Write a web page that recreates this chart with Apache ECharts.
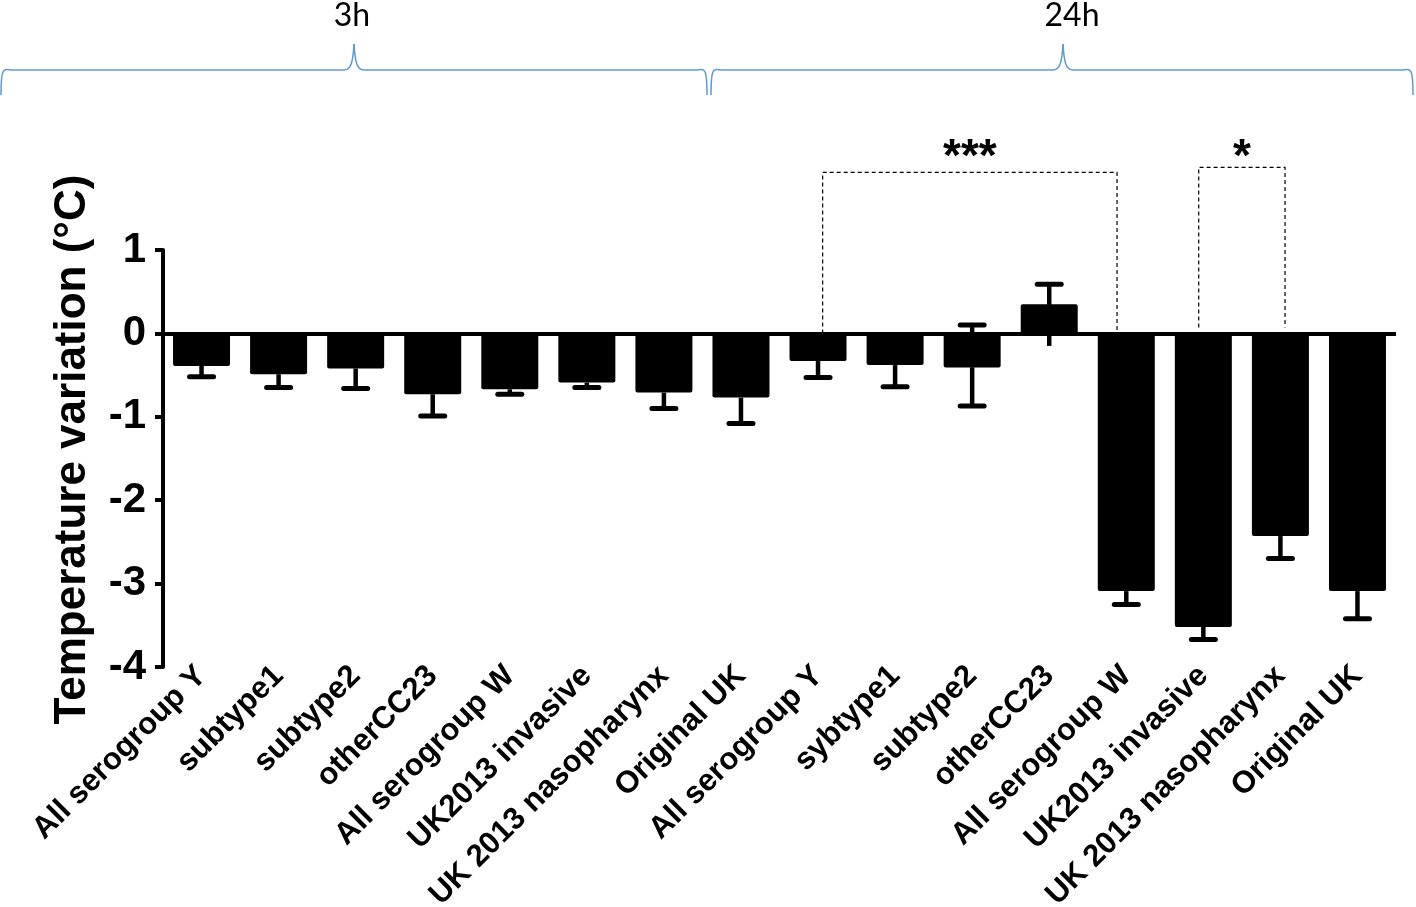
<!DOCTYPE html>
<html><head><meta charset="utf-8">
<script src="https://cdn.jsdelivr.net/npm/echarts@6/dist/echarts.min.js"></script>
<style>html,body{margin:0;padding:0;background:#fff}#chart{width:1416px;height:907px}</style>
</head><body><div id="chart"></div>
<script>
// ---- data ----
const categories = ['All serogroup Y','subtype1','subtype2','otherCC23','All serogroup W','UK2013 invasive','UK 2013 nasopharynx','Original UK',
                    'All serogroup Y','sybtype1','subtype2','otherCC23','All serogroup W','UK2013 invasive','UK 2013 nasopharynx','Original UK'];
const means   = [-0.39,-0.49,-0.42,-0.73,-0.67,-0.59,-0.71,-0.77, -0.33,-0.38,-0.41, 0.35,-3.09,-3.52,-2.43,-3.09];
const errLow  = [-0.52,-0.65,-0.66,-0.99,-0.73,-0.65,-0.90,-1.08, -0.53,-0.64,-0.87,-0.15,-3.25,-3.67,-2.70,-3.42];
const errHigh = [null,null,null,null,null,null,null,null, null,null,0.10,0.59,null,null,null,null];
const lowCap  = [true,true,true,true,true,true,true,true, true,true,true,false,true,true,true,true];
const yMin = -4, yMax = 1, yStep = 1;
const yTitle = 'Temperature variation (°C)';
const groupLabels = ['3h','24h'];
const sigFrom  = [8.06, 12.94];
const sigTo    = [11.88, 14.06];
const sigTop   = [1.93, 1.99];
const sigBase  = [0, 0.07];
const sigText  = ['***','*'];
const sigTextY = [2.1, 2.1];

const chart = echarts.init(document.getElementById('chart'));
const FONT = "'Liberation Sans', Arial, sans-serif";
const BRACE = { stroke: '#5b9bd5', lineWidth: 1.5, fill: null };

function brace(x0, x1, tip) {
  const yl = 70, yb = 95, yt = 44;
  const els = [];
  const bz = (a, b, c1, c2) => els.push({ type: 'bezierCurve', shape: { x1: a[0], y1: a[1], x2: b[0], y2: b[1], cpx1: c1[0], cpy1: c1[1], cpx2: c2[0], cpy2: c2[1] }, style: BRACE });
  const ln = (a, b) => els.push({ type: 'line', shape: { x1: a[0], y1: a[1], x2: b[0], y2: b[1] }, style: BRACE });
  bz([x0, yb], [x0 + 12, yl], [x0, yl - 6], [x0 + 3, yl]);
  ln([x0 + 12, yl], [tip - 10, yl]);
  bz([tip - 10, yl], [tip, yt], [tip - 3, yl], [tip - 1, yl - 8]);
  bz([tip, yt], [tip + 10, yl], [tip + 1, yl - 8], [tip + 3, yl]);
  ln([tip + 10, yl], [x1 - 12, yl]);
  bz([x1 - 12, yl], [x1, yb], [x1 - 3, yl], [x1, yl - 6]);
  return els;
}

const option = {
  animation: false,
  backgroundColor: '#fff',
  grid: { left: 163, right: 20, top: 250, bottom: 240, containLabel: false, outerBoundsMode: 'none' },
  xAxis: [
    { type: 'category', data: categories, position: 'bottom',
      axisLine: { show: false, onZero: false }, axisTick: { show: false },
      axisLabel: { interval: 0, rotate: 45, fontSize: 31, fontWeight: 'bold', color: '#000',
                   fontFamily: FONT, margin: 4, padding: [56, 0, 0, 0] } },
    { type: 'value', min: -0.5, max: 15.5, show: false }
  ],
  yAxis: {
    type: 'value', min: yMin, max: yMax, interval: yStep,
    name: yTitle, nameLocation: 'middle', nameRotate: 90, nameGap: 68,
    nameTextStyle: { fontSize: 44, fontWeight: 'bold', color: '#000', fontFamily: FONT, padding: [0, 0, 0, 18] },
    axisLine: { show: true, onZero: false, lineStyle: { color: '#000', width: 4 } },
    axisTick: { show: true, length: 8, lineStyle: { color: '#000', width: 4 } },
    axisLabel: { fontSize: 42, fontWeight: 'bold', color: '#000', fontFamily: FONT, margin: 17 },
    splitLine: { show: false }
  },
  series: [
    { type: 'custom', xAxisIndex: 1, z: 1, clip: false,
      data: means.map((m, i) => [i, m]),
      renderItem(params, api) {
        const i = params.dataIndex;
        const children = [];
        const c = api.coord([i, means[i]]);
        const half = 12;
        if (errLow[i] != null) {
          const p = api.coord([i, errLow[i]]);
          children.push({ type: 'line', shape: { x1: c[0], y1: c[1], x2: p[0], y2: p[1] }, style: { stroke: '#000', lineWidth: 4.5 } });
          if (lowCap[i]) children.push({ type: 'line', shape: { x1: p[0]-half, y1: p[1], x2: p[0]+half, y2: p[1] }, style: { stroke: '#000', lineWidth: 5, lineCap: 'round' } });
        }
        if (errHigh[i] != null) {
          const p = api.coord([i, errHigh[i]]);
          children.push({ type: 'line', shape: { x1: c[0], y1: c[1], x2: p[0], y2: p[1] }, style: { stroke: '#000', lineWidth: 4.5 } });
          children.push({ type: 'line', shape: { x1: p[0]-half, y1: p[1], x2: p[0]+half, y2: p[1] }, style: { stroke: '#000', lineWidth: 5, lineCap: 'round' } });
        }
        return { type: 'group', children };
      }
    },
    { type: 'bar', xAxisIndex: 0, z: 2, data: means, barWidth: 57,
      itemStyle: { color: '#000', borderRadius: 2 },
      markLine: { silent: true, symbol: ['none', 'none'], label: { show: false },
                  lineStyle: { color: '#000', width: 4, type: 'solid' }, data: [{ yAxis: 0 }] }
    },
    { type: 'custom', xAxisIndex: 1, z: 3, clip: false,
      data: sigText.map((t, k) => [sigFrom[k], sigTop[k]]),
      renderItem(params, api) {
        const k = params.dataIndex;
        const a = api.coord([sigFrom[k], sigBase[k]]);
        const b = api.coord([sigFrom[k], sigTop[k]]);
        const c = api.coord([sigTo[k], sigTop[k]]);
        const d = api.coord([sigTo[k], sigBase[k]]);
        const t = api.coord([(sigFrom[k] + sigTo[k]) / 2, sigTextY[k]]);
        return { type: 'group', children: [
          { type: 'polyline', shape: { points: [a, b, c, d] },
            style: { stroke: '#000', lineWidth: 1.2, lineDash: [4, 3], fill: null } },
          { type: 'text', x: t[0], y: t[1],
            style: { text: sigText[k], font: "bold 46px " + FONT, fill: '#000', align: 'center', verticalAlign: 'middle' } }
        ]};
      }
    }
  ],
  graphic: [
    ...brace(1, 707, 354),
    ...brace(711, 1413, 1063),
    { type: 'text', x: 352, y: 16, style: { text: groupLabels[0], font: "32px Lato, 'Open Sans', sans-serif", fill: '#000', align: 'center', verticalAlign: 'middle' } },
    { type: 'text', x: 1072, y: 16, style: { text: groupLabels[1], font: "32px Lato, 'Open Sans', sans-serif", fill: '#000', align: 'center', verticalAlign: 'middle' } }
  ]
};
chart.setOption(option);
</script>
</body></html>
